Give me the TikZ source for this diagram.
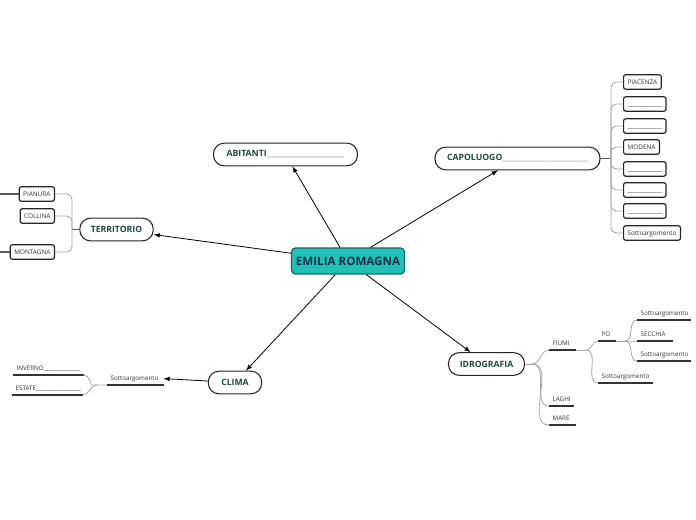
\documentclass[tikz,border=0pt]{standalone}
\usepackage{fontspec}
\setmainfont{Open Sans}
\usetikzlibrary{shapes}

% blank slot in the small boxes
\newcommand{\emptyslot}{\_\_\_\_\_\_\_\_\_\_\_\_}

\begin{document}
\begin{tikzpicture}[x=0.75pt,y=-0.75pt,
  central/.style={draw=centerline, line width=0.9pt, fill=centerfill, rounded corners=3pt,
    minimum width=84pt, minimum height=19.5pt, text=centertext,
    font=\bfseries\fontsize{8.7}{10}\selectfont},
  topic/.style={draw=black!85, line width=0.8pt, fill=white, rounded corners=8pt,
    minimum height=17pt, text=topictext, font=\bfseries\fontsize{6.5}{8}\selectfont},
  tag/.style={draw=black!85, line width=0.9pt, rounded corners=1.5pt, fill=white,
    minimum height=9.75pt, inner xsep=3pt, text height=3.6pt, text depth=0.5pt,
    font=\fontsize{4.8}{5.5}\selectfont, text=black!80},
  leaf/.style={anchor=south west, text width=#1, align=left, inner xsep=2.5pt,
    inner ysep=2.5pt, text depth=0.8pt, font=\fontsize{4.7}{5.5}\selectfont, text=black!80,
    append after command={(\tikzlastnode.south west) edge[leafline] (\tikzlastnode.south east)}},
  leafline/.style={draw=black!80, line width=1.5pt},
  link/.style={draw=black, line width=0.6pt, -latex},
  branch/.style={draw=black!35, line width=0.6pt, rounded corners=4pt},
  stub/.style={draw=black!65, line width=0.9pt}
]

  % Colours
  \definecolor{centerfill}{RGB}{32,194,184}
  \definecolor{centerline}{RGB}{20,105,98}
  \definecolor{centertext}{RGB}{22,44,72}
  \definecolor{topictext}{RGB}{28,78,56}
  \definecolor{dashcol}{RGB}{130,160,145}

  \useasboundingbox (0,0) rectangle (696,520);

  % --- central idea ---
  \node[central] (center) at (348,261) {EMILIA ROMAGNA};

  % --- main topics ---
  \node[topic, minimum width=108pt] (abit) at (285.5,154.5)
    {ABITANTI\textcolor{dashcol}{\mdseries\_\_\_\_\_\_\_\_\_\_\_\_\_\_\_\_\_\_\_\_}};
  \node[topic, minimum width=123.75pt] (capo) at (517.5,158.5)
    {CAPOLUOGO\textcolor{dashcol}{\mdseries\_\_\_\_\_\_\_\_\_\_\_\_\_\_\_\_\_\_\_\_\_\_}};
  \node[topic, minimum width=55pt] (terr) at (116.5,229.5) {TERRITORIO};
  \node[topic, minimum width=40pt] (clima) at (235,382.5) {CLIMA};
  \node[topic, minimum width=57pt] (idro) at (486.5,364) {IDROGRAFIA};

  \foreach \t in {abit,capo,terr,clima,idro}
    \draw[link] (center) -- (\t);

  % --- capoluogo: list of boxes ---
  \foreach \y/\txt/\n in {82/PIACENZA/c1, 104/\emptyslot/c2, 126/\emptyslot/c3,
      147/MODENA/c4, 169/\emptyslot/c5, 190/\emptyslot/c6, 211/\emptyslot/c7,
      233/Sottoargomento/c8}
    \node[tag, anchor=west] (\n) at (623,\y) {\txt};

  \coordinate (capojoin) at (611,158.5);
  \draw[stub] (capo.east) -- (capojoin);
  \foreach \n in {c1,c2,c3,c4,c5,c6,c7,c8}
    \draw[branch] (capojoin) |- (\n.west);

  % --- territorio ---
  \node[tag, anchor=east] (pianura) at (55,194) {PIANURA};
  \node[tag, anchor=east] (collina) at (55,216) {COLLINA};
  \node[tag, anchor=east] (montagna) at (55,252) {MONTAGNA};

  \coordinate (terrjoin) at (72,229.5);
  \draw[stub] (terr.west) -- (terrjoin);
  \foreach \n in {pianura,collina,montagna}
    \draw[branch] (terrjoin) |- (\n.east);

  % lines running off the left edge
  \coordinate (edgepia) at (0,194);
  \coordinate (edgemon) at (0,252);
  \draw[stub] (pianura.west) -- (edgepia);
  \draw[stub] (montagna.west) -- (edgemon);

  % --- clima ---
  \node[leaf=37pt] (csub) at (107,385) {Sottoargomento};
  \node[leaf=47.5pt] (inverno) at (13,375) {INVERNO\_\_\_\_\_\_\_\_\_\_\_\_\_};
  \node[leaf=47.5pt] (estate) at (12,395) {ESTATE\_\_\_\_\_\_\_\_\_\_\_\_\_\_\_\_};

  \draw[link] (clima) -- (csub.east);
  \coordinate (climajoin) at (97,385);
  \draw[branch] (csub.south west) -- (climajoin) to[out=180,in=0] (inverno.south east);
  \draw[branch] (climajoin) to[out=180,in=0] (estate.south east);

  % --- idrografia ---
  \node[leaf=14.5pt] (fiumi) at (549,350) {FIUMI};
  \node[leaf=13pt] (laghi) at (549,406) {LAGHI};
  \node[leaf=14.5pt] (mare) at (549,425) {MARE};
  \node[leaf=7.75pt] (po) at (598,341) {PO};
  \node[leaf=35.5pt] (fsub) at (598,383) {Sottoargomento};
  \node[leaf=34.75pt] (posub1) at (637,320) {Sottoargomento};
  \node[leaf=21.25pt] (secchia) at (637,341) {SECCHIA};
  \node[leaf=34.75pt] (posub2) at (637,361) {Sottoargomento};

  \coordinate (idrojoin) at (532,364);
  \draw[branch] (idro.east) -- (idrojoin);
  \foreach \n in {fiumi,laghi,mare}
    \draw[branch] (idrojoin) to[out=0,in=180] (\n.south west);

  \coordinate (fiumijoin) at (586,350);
  \draw[branch] (fiumi.south east) -- (fiumijoin);
  \foreach \n in {po,fsub}
    \draw[branch] (fiumijoin) to[out=0,in=180] (\n.south west);

  \coordinate (pojoin) at (625,341);
  \draw[branch] (po.south east) -- (pojoin);
  \foreach \n in {posub1,secchia,posub2}
    \draw[branch] (pojoin) to[out=0,in=180] (\n.south west);

\end{tikzpicture}
\end{document}
